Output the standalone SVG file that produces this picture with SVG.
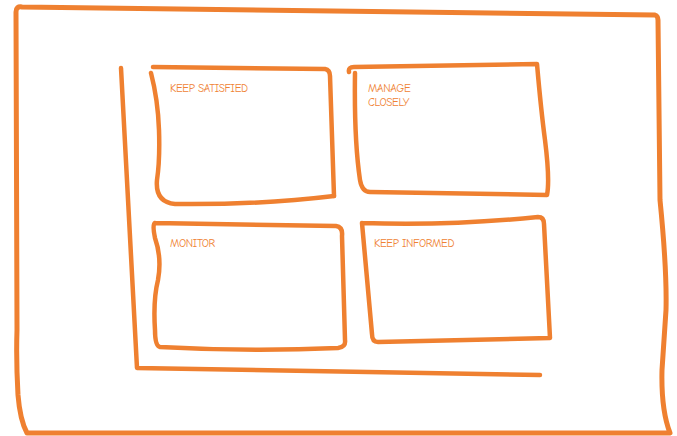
<svg xmlns="http://www.w3.org/2000/svg" width="677" height="436" viewBox="0 0 677 436">
<style>
.s{fill:none;stroke:#EF8030;stroke-linecap:round;stroke-linejoin:round}
.o{stroke-width:5}
.b{stroke-width:4.5}
.t{font-family:"Comic Neue","Liberation Sans",sans-serif;font-size:11.2px;fill:#EF8233;letter-spacing:-0.35px}
</style>
<rect width="677" height="436" fill="#fff"/>
<g id="frame">
<path class="s o" d="M16,12 Q16,6 22,7 L655,15 Q658,16 658,20 L660,200 Q667,270 666,310 Q664,340 662,370 Q661,410 670,433 L27,433 Q20,420 18,395 Q16,360 17,330 L16,12"/>
</g>
<g id="axes">
<path class="s b" d="M121,68 L137,368 L540,375"/>
</g>
<g id="keep-satisfied">
<path class="s b" d="M153,67 L325,69 Q330,70 330,76 L334,196"/>
<path class="s b" d="M151,73 Q158,100 159,130 Q160,160 157,180 Q155,202 175,204 Q260,205 334,196"/>
<text class="t" x="170" y="92">KEEP SATISFIED</text>
</g>
<g id="manage-closely">
<path class="s b" d="M349,72 Q348,67 354,67 L537,64 Q541,110 545,140 Q550,180 547,195 L370,192 Q362,192 360,180 Q354,140 355,73"/>
<text class="t" x="368" y="92">MANAGE</text>
<text class="t" x="368" y="106">CLOSELY</text>
</g>
<g id="monitor">
<path class="s b" d="M155,223 L336,226 Q343,227 342,236 L345,340 Q346,347 338,348 Q250,352 160,347 Q155,346 155,330 Q153,300 158,280 Q162,258 155,238 Q152,224 155,223"/>
<text class="t" x="170" y="247">MONITOR</text>
</g>
<g id="keep-informed">
<path class="s b" d="M362,223 Q450,226 538,217 Q544,217 544,224 L550,338 L378,342 Q372,342 372,334 L362,223"/>
<text class="t" x="374" y="247">KEEP INFORMED</text>
</g>
</svg>
